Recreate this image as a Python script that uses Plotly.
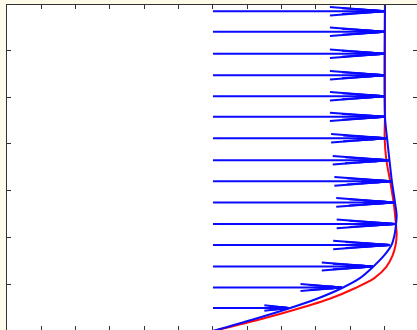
import plotly.graph_objects as go

# Baseline (wall-normal axis position) where the arrows start
x0 = 6.0

# Blue velocity profile (u offset from baseline) vs height y
blue_y = [0.0, 0.24, 0.47, 0.69, 0.92, 1.13, 1.37, 1.61, 1.84, 2.06, 2.27, 2.48, 2.76, 3.21, 3.66, 4.13, 4.58, 7.0]
blue_u = [0.0, 1.14, 2.16, 3.03, 3.76, 4.28, 4.66, 4.98, 5.20, 5.29, 5.33, 5.35, 5.30, 5.21, 5.14, 5.07, 5.01, 5.01]

# Red velocity profile
red_y = [0.0, 0.24, 0.47, 0.69, 0.92, 1.13, 1.37, 1.61, 1.84, 2.06, 2.36, 2.76, 3.21, 3.66, 4.13, 4.58, 7.0]
red_u = [0.0, 1.33, 2.45, 3.40, 4.15, 4.70, 5.05, 5.23, 5.32, 5.35, 5.32, 5.26, 5.16, 5.05, 5.00, 5.01, 5.01]

# Quiver arrows: heights and lengths
arrow_y = [0.49, 0.93, 1.38, 1.84, 2.29, 2.75, 3.20, 3.65, 4.12, 4.58, 5.02, 5.47, 5.93, 6.40, 6.84]
arrow_u = [2.20, 3.75, 4.66, 5.15, 5.30, 5.28, 5.20, 5.13, 5.06, 5.01, 5.01, 5.01, 5.01, 5.01, 5.01]

BLUE = "#0a0aff"
RED = "#ff0a0a"

fig = go.Figure()

fig.add_trace(go.Scatter(x=[x0 + u for u in red_u], y=red_y, mode="lines",
                         line=dict(color=RED, width=2, shape="spline", smoothing=0.8),
                         hoverinfo="skip"))

# shafts
sx, sy = [], []
for y, u in zip(arrow_y, arrow_u):
    sx += [x0, x0 + u, None]
    sy += [y, y, None]
fig.add_trace(go.Scatter(x=sx, y=sy, mode="lines", line=dict(color=BLUE, width=2),
                         hoverinfo="skip"))

# arrow heads (overlapping barb pairs)
hx, hy = [], []
for y, u in zip(arrow_y, arrow_u):
    tip = x0 + u
    w0 = 0.035 + 0.011 * u
    for a, w in ((0.32, w0), (0.25, 0.7 * w0), (0.17, 0.45 * w0), (0.09, 0.25 * w0)):
        hx += [tip - a * u, tip, tip - a * u, None]
        hy += [y + w, y, y - w, None]
fig.add_trace(go.Scatter(x=hx, y=hy, mode="lines", line=dict(color=BLUE, width=2),
                         hoverinfo="skip"))

fig.add_trace(go.Scatter(x=[x0 + u for u in blue_u], y=blue_y, mode="lines",
                         line=dict(color=BLUE, width=2, shape="spline", smoothing=0.8),
                         hoverinfo="skip"))

axis_common = dict(showgrid=False, zeroline=False, showticklabels=False,
                   ticks="inside", ticklen=4, tickwidth=1, tickcolor="#333333",
                   showline=True, linecolor="#333333", linewidth=1, mirror="ticks")

fig.update_layout(
    width=417, height=330,
    margin=dict(l=7, r=0, t=5, b=0),
    paper_bgcolor="#fffbea",
    plot_bgcolor="white",
    showlegend=False,
    xaxis=dict(range=[0, 11.943], dtick=1, tick0=0, **axis_common),
    yaxis=dict(range=[0.0214, 6.972], dtick=1, tick0=0, **axis_common),
)

fig.write_html("out.html")
